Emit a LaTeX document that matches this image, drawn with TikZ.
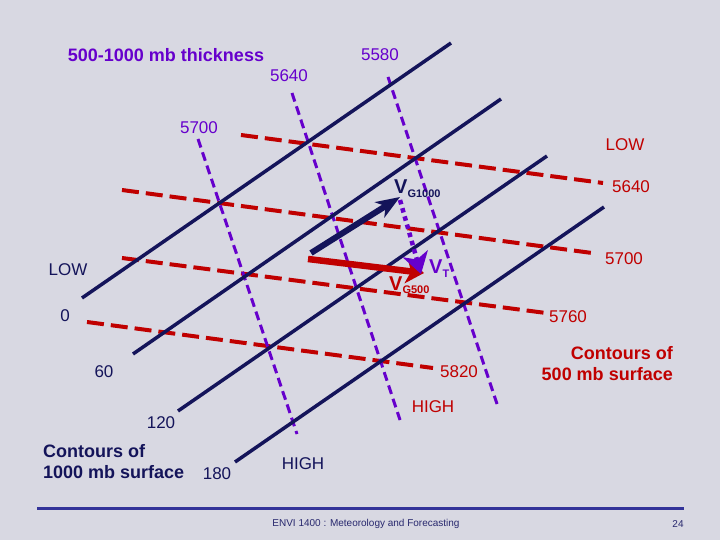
\documentclass[tikz,border=0pt]{standalone}
\usepackage{fontspec}
\setmainfont{Liberation Sans}
\usetikzlibrary{arrows.meta}
\definecolor{bgc}{RGB}{216,216,226}
\definecolor{navyc}{RGB}{20,20,90}
\definecolor{redc}{RGB}{192,0,0}
\definecolor{purc}{RGB}{102,0,204}
\definecolor{footc}{RGB}{51,51,153}
\definecolor{foottext}{RGB}{40,40,110}
\begin{document}
\begin{tikzpicture}[x=1pt,y=-1pt,
  lowline/.style={navyc, line width=3.5pt},
  hiline/.style={redc, line width=4pt, dash pattern=on 17pt off 7pt},
  thkline/.style={purc, line width=3pt, dash pattern=on 9pt off 5pt},
  lab/.style={inner sep=0pt, font=\fontsize{17}{20}\selectfont},
  blab/.style={inner sep=0pt, font=\bfseries\fontsize{18}{21}\selectfont},
  vlab/.style={inner sep=0pt, anchor=base west, font=\bfseries\fontsize{20}{22}\selectfont}
]
\useasboundingbox (0,0) rectangle (720,540);
\fill[bgc] (0,0) rectangle (720,540);

% 1000 mb contours
\coordinate (l1a) at (82,298);  \coordinate (l1b) at (451,43);
\coordinate (l2a) at (133,354); \coordinate (l2b) at (501,99);
\coordinate (l3a) at (178,411); \coordinate (l3b) at (547,156);
\coordinate (l4a) at (235,462); \coordinate (l4b) at (604,207);
% 500 mb contours
\coordinate (r1a) at (241,135); \coordinate (r1b) at (603,183);
\coordinate (r2a) at (122,190); \coordinate (r2b) at (592,253);
\coordinate (r3a) at (122,258); \coordinate (r3b) at (546,313);
\coordinate (r4a) at (87,322);  \coordinate (r4b) at (433,368);
% thickness
\coordinate (p1a) at (198,139); \coordinate (p1b) at (297,434);
\coordinate (p2a) at (292,93);  \coordinate (p2b) at (400,420);
\coordinate (p3a) at (388,77);  \coordinate (p3b) at (497,404);

\draw[hiline] (r1a) -- (r1b);
\draw[hiline] (r2a) -- (r2b);
\draw[hiline] (r3a) -- (r3b);
\draw[hiline] (r4a) -- (r4b);

\draw[thkline] (p1a) -- (p1b);
\draw[thkline] (p2a) -- (p2b);
\draw[thkline] (p3a) -- (p3b);

\draw[lowline] (l1a) -- (l1b);
\draw[lowline] (l2a) -- (l2b);
\draw[lowline] (l3a) -- (l3b);
\draw[lowline] (l4a) -- (l4b);

% vectors
\coordinate (on) at (311,253);
\coordinate (orr) at (308,259);
\coordinate (g1) at (400,197);
\coordinate (g5) at (424,273);
\coordinate (vt0) at (400,200);
\coordinate (vt1) at (421,274);
\draw[navyc, line width=6pt, -{Stealth[length=24pt,width=18pt,inset=7pt]}] (on) -- (g1);
\draw[redc, line width=6.5pt, -{Stealth[length=18pt,width=25pt,inset=5pt]}] (orr) -- (g5);
\draw[purc, line width=4.5pt, dash pattern=on 4.5pt off 4pt, -{Stealth[length=21pt,width=26pt,inset=6pt]}] (vt0) -- (vt1);

% labels
\node[vlab, navyc] (vg1) at (394,194) {V\fontsize{11}{12}\selectfont\raisebox{-3pt}{G1000}};
\node[vlab, purc] (vtl) at (429,273) {V\fontsize{11}{12}\selectfont\raisebox{-4pt}{T}};
\node[vlab, redc] (vg5) at (389,290) {V\fontsize{11}{12}\selectfont\raisebox{-3pt}{G500}};

\node[blab, purc] (title) at (166,55) {500-1000 mb thickness};
\node[lab, purc] (t5580) at (380,55) {5580};
\node[lab, purc] (t5640) at (289,76) {5640};
\node[lab, purc] (t5700) at (199,128) {5700};

\node[lab, redc] (lowr) at (625,145) {LOW};
\node[lab, redc] (h5640) at (631,187) {5640};
\node[lab, redc] (h5700) at (624,259) {5700};
\node[lab, redc] (h5760) at (568,317) {5760};
\node[lab, redc] (h5820) at (459,372) {5820};
\node[lab, redc] (highr) at (433,407) {HIGH};
\node[blab, redc, anchor=north east, align=right] (c500) at (673,346) {Contours of\\500 mb surface};

\node[lab, navyc] (lown) at (68,270) {LOW};
\node[lab, navyc] (n0) at (65,316) {0};
\node[lab, navyc] (n60) at (104,372) {60};
\node[lab, navyc] (n120) at (161,423) {120};
\node[lab, navyc] (n180) at (217,474) {180};
\node[lab, navyc] (highn) at (303,464) {HIGH};
\node[blab, navyc, anchor=north west, align=left] (c1000) at (43,444) {Contours of\\1000 mb surface};

% footer
\coordinate (fa) at (37,508);
\coordinate (fb) at (684,508);
\draw[footc, line width=3pt] (fa) -- (fb);
\node[inner sep=0pt, foottext, font=\fontsize{10}{12}\selectfont] (foot) at (366,524) {ENVI 1400 : Meteorology and Forecasting};
\node[inner sep=0pt, foottext, font=\fontsize{10}{12}\selectfont] (pg) at (678,524) {24};
\end{tikzpicture}
\end{document}
